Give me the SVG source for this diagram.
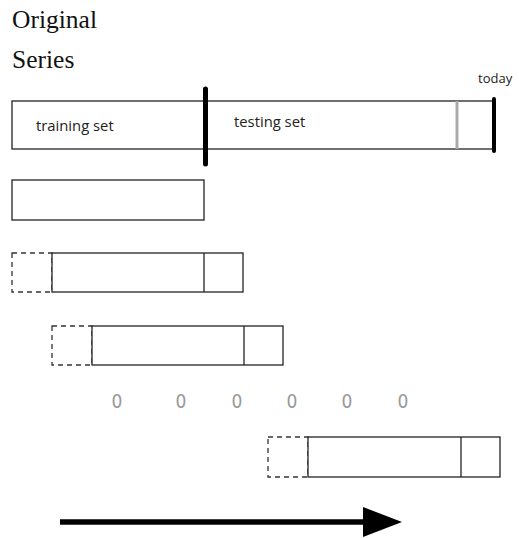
<svg xmlns="http://www.w3.org/2000/svg" width="519" height="538" viewBox="0 0 519 538">
<style>
.box{fill:#fff;stroke:#222;stroke-width:1.3}
.dash{fill:none;stroke:#333;stroke-width:1.3;stroke-dasharray:5,4}
.div{stroke:#222;stroke-width:1.3}
.title{font-family:"Liberation Serif","Times New Roman",serif;font-size:25.5px;fill:#111}
.lbl{font-family:"Open Sans","Liberation Sans",sans-serif;font-size:14.8px;fill:#222}
.dot{font-family:"DejaVu Sans Condensed","Liberation Sans",sans-serif;font-size:19px;fill:#999;text-anchor:middle}
</style>
<rect width="519" height="538" fill="#fff"/>
<g id="title">
<text class="title" x="12" y="28">Original</text>
<text class="title" x="12" y="68">Series</text>
</g>
<g id="series">
<rect class="box" x="12" y="101" width="482" height="48"/>
<line x1="457" y1="101" x2="457" y2="149" stroke="#aaa" stroke-width="3"/>
<line x1="205.5" y1="89" x2="205.5" y2="164" stroke="#000" stroke-width="5" stroke-linecap="round"/>
<line x1="494" y1="99" x2="494" y2="151" stroke="#000" stroke-width="4" stroke-linecap="round"/>
<text class="lbl" x="36" y="131">training set</text>
<text class="lbl" x="234" y="127">testing set</text>
<text class="lbl" x="478" y="83" style="font-size:13px">today</text>
</g>
<g id="window1">
<rect class="box" x="12" y="180" width="192" height="40"/>
</g>
<g id="window2">
<rect class="dash" x="12" y="253" width="40" height="39"/>
<rect class="box" x="52" y="253" width="191" height="39"/>
<line class="div" x1="204" y1="253" x2="204" y2="292"/>
</g>
<g id="window3">
<rect class="dash" x="52" y="326" width="40" height="39"/>
<rect class="box" x="92" y="326" width="191" height="39"/>
<line class="div" x1="244" y1="326" x2="244" y2="365"/>
</g>
<g id="ellipsis">
<text class="dot" x="117" y="408">0</text>
<text class="dot" x="181" y="408">0</text>
<text class="dot" x="237" y="408">0</text>
<text class="dot" x="292" y="408">0</text>
<text class="dot" x="347" y="408">0</text>
<text class="dot" x="403" y="408">0</text>
</g>
<g id="window4">
<rect class="dash" x="268" y="437" width="40" height="40"/>
<rect class="box" x="308" y="437" width="192" height="40"/>
<line class="div" x1="461" y1="437" x2="461" y2="477"/>
</g>
<g id="connectors">
<line x1="60" y1="522" x2="366" y2="522" stroke="#000" stroke-width="5.5"/>
<polygon points="363,507 402,522 363,537" fill="#000"/>
</g>
</svg>
